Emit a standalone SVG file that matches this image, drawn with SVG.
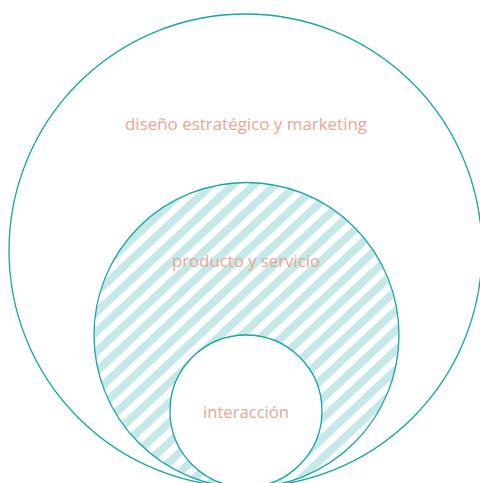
<svg xmlns="http://www.w3.org/2000/svg" width="480" height="483" viewBox="0 0 480 483">
<style>
.ring{stroke:#16a6a6;stroke-width:1.3}
.lbl{font-family:"Open Sans","Liberation Sans",sans-serif;font-weight:400;font-size:16.5px;fill:#e9a696;text-anchor:middle}
</style>
<defs>
<pattern id="stripes" patternUnits="userSpaceOnUse" width="14.5" height="14.5" patternTransform="rotate(47)">
<rect x="0" y="0" width="8" height="14.5" fill="#c7e8e8"/>
</pattern>
</defs>
<rect width="480" height="483" fill="#fff"/>
<g id="outer">
<circle class="ring" cx="245.5" cy="250.5" r="236.5" fill="#fff"/>
<text class="lbl" x="246" y="130" textLength="242" lengthAdjust="spacingAndGlyphs">diseño estratégico y marketing</text>
</g>
<g id="middle">
<circle cx="246.5" cy="335" r="152.5" fill="url(#stripes)"/>
<circle class="ring" cx="246.5" cy="335" r="152.5" fill="none"/>
<text class="lbl" x="246" y="267" textLength="148" lengthAdjust="spacingAndGlyphs">producto y servicio</text>
</g>
<g id="inner">
<circle class="ring" cx="246" cy="411" r="76" fill="#fff"/>
<text class="lbl" x="246" y="418" textLength="86" lengthAdjust="spacingAndGlyphs">interacción</text>
</g>
<g id="connectors"></g>
</svg>
